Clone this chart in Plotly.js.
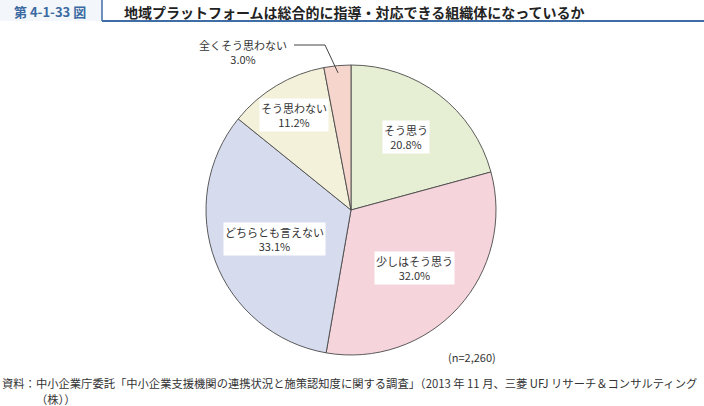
<!DOCTYPE html>
<html>
<head>
<meta charset="utf-8">
<script src="https://cdn.plot.ly/plotly-3.0.1.min.js"></script>
<style>html,body{margin:0;padding:0;background:#fff}#chart{width:704px;height:406px}</style>
</head>
<body>
<div id="chart"></div>
<script>
const categories = ["そう思う", "少しはそう思う", "どちらとも言えない", "そう思わない", "全くそう思わない"];
const values = [20.8, 32.0, 33.1, 11.2, 3.0];
const colors = ["#e6efd3", "#f5d4dc", "#d6dbee", "#f3f1da", "#f6d5cd"];
const labelRadius = [0.63, 0.59, 0.56, 0.76, null];
const sampleNote = "(n=2,260)";
const figureNo = "第 4-1-33 図";
const titleText = "地域プラットフォームは総合的に指導・対応できる組織体になっているか";
const sourceLine1 = "資料：中小企業庁委託「中小企業支援機関の連携状況と施策認知度に関する調査」（2013 年 11 月、三菱 UFJ リサーチ＆コンサルティング";
const sourceLine2 = "（株））";

const W = 704, H = 406;
const cx = 351, cy = 210, R = 145;
const FONT = "Noto Sans CJK JP, Noto Sans, sans-serif";
const TXT = "#333333";
const px = x => x / W;
const py = y => 1 - y / H;

const total = values.reduce((a, b) => a + b, 0);
let cum = 0;
const mids = values.map(v => { const m = (cum + v / 2) / total; cum += v; return m * 2 * Math.PI; });
const pt = (ang, r) => [cx + r * R * Math.sin(ang), cy - r * R * Math.cos(ang)];

function ann(x, y, text, opts) {
  return Object.assign({
    x: px(x), y: py(y), xref: "paper", yref: "paper", text: text, showarrow: false,
    xanchor: "center", yanchor: "middle", align: "center",
    font: {family: FONT, size: 11, color: TXT}
  }, opts || {});
}

const annotations = [];
categories.forEach((c, i) => {
  if (labelRadius[i] === null) return;
  const [x, y] = pt(mids[i], labelRadius[i]);
  annotations.push(ann(x, y, c + "<br>" + values[i].toFixed(1) + "%", {bgcolor: "#ffffff", borderpad: 1}));
});
// outside label for the smallest slice, with a leader line
const last = categories.length - 1;
const [ex, ey] = pt(mids[last], 0.95);
annotations.push(ann(243, 52, categories[last] + "<br>" + values[last].toFixed(1) + "%"));
annotations.push(ann(498, 357, sampleNote, {xanchor: "right"}));
annotations.push(ann(50, 12, "<b>" + figureNo + "</b>", {font: {family: FONT, size: 13, color: "#3b6aa3"}}));
annotations.push(ann(122, 12, "<b>" + titleText + "</b>", {xanchor: "left", font: {family: FONT, size: 14, color: "#222222"}}));
annotations.push(ann(0, 383, sourceLine1, {xanchor: "left", font: {family: FONT, size: 11.3, color: TXT}}));
annotations.push(ann(34, 399, sourceLine2, {xanchor: "left", font: {family: FONT, size: 11.3, color: TXT}}));

const shapes = [
  {type: "rect", xref: "paper", yref: "paper", x0: 0, x1: px(102), y0: py(21), y1: 1,
   fillcolor: "#f3f6fa", line: {width: 0}, layer: "below"},
  {type: "line", xref: "paper", yref: "paper", x0: px(102), x1: px(102), y0: py(0), y1: py(21),
   line: {color: "#3f6da5", width: 1.5}},
  {type: "line", xref: "paper", yref: "paper", x0: px(102), x1: 1, y0: py(21), y1: py(21),
   line: {color: "#3f6da5", width: 1.8}},
  {type: "path", xref: "paper", yref: "paper",
   path: `M ${px(294)} ${py(45)} L ${px(325)} ${py(45)} L ${px(ex)} ${py(ey)}`,
   line: {color: "#444444", width: 1}}
];

const data = [{
  type: "pie", labels: categories, values: values, sort: false, direction: "clockwise", rotation: 0,
  marker: {colors: colors, line: {color: "#4a4a4a", width: 0.9}},
  textinfo: "none", hoverinfo: "none", showlegend: false,
  domain: {x: [px(cx - R), px(cx + R)], y: [py(cy + R), py(cy - R)]}
}];

Plotly.newPlot("chart", data, {
  width: W, height: H, margin: {l: 0, r: 0, t: 0, b: 0},
  paper_bgcolor: "#ffffff", showlegend: false,
  annotations: annotations, shapes: shapes
}, {staticPlot: true});
</script>
</body>
</html>
